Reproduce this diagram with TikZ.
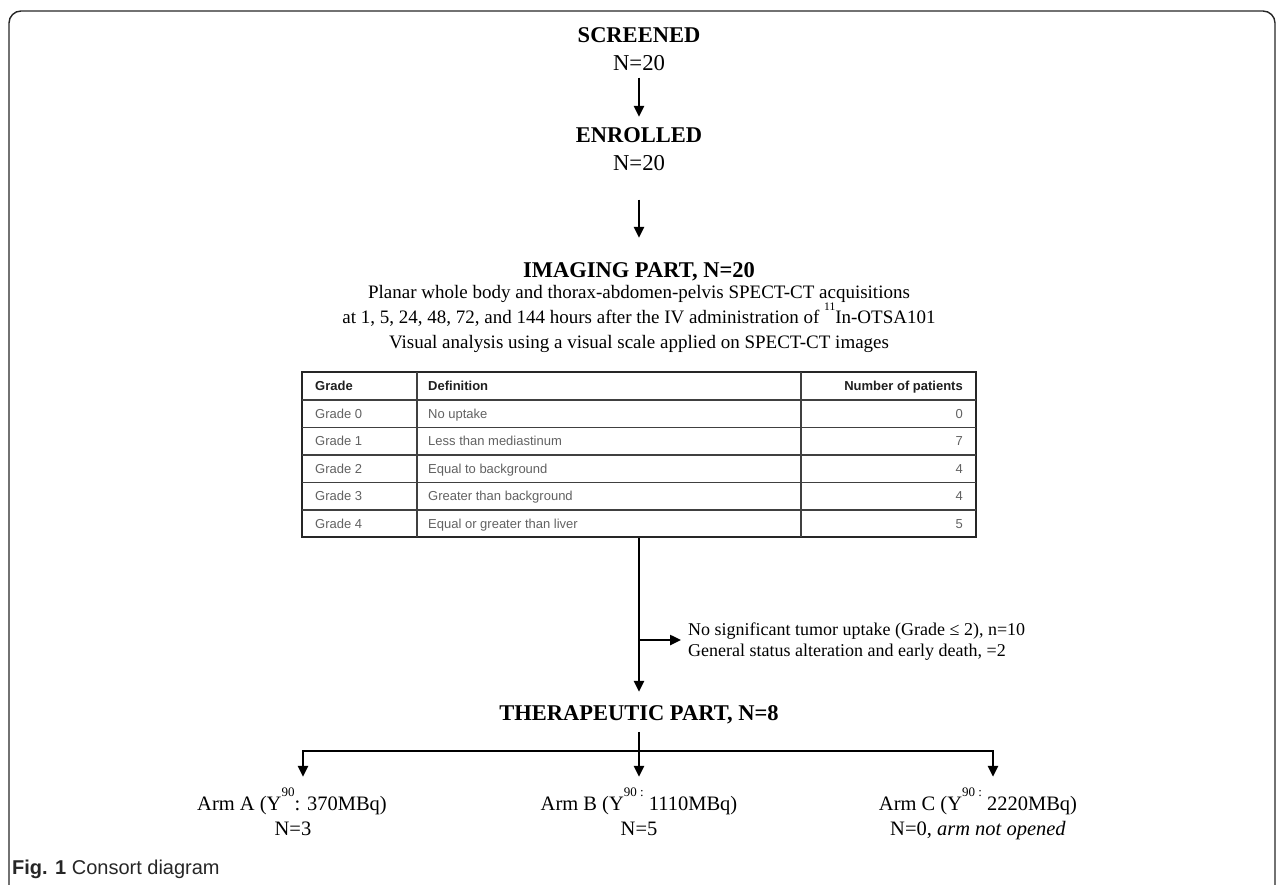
\documentclass[tikz,border=0pt]{standalone}
\usepackage{fontspec}
\setmainfont{Liberation Serif}
\newfontfamily\tabfont{Liberation Sans}
\newfontfamily\capfont{Liberation Sans}
\usetikzlibrary{arrows.meta}
\newcommand\hisup[3]{\raisebox{#1}{\fontsize{#2}{#2}\selectfont #3}}
\begin{document}
\begin{tikzpicture}[x=1pt,y=-1pt,
  head/.style={font=\bfseries\fontsize{22.5}{27}\selectfont, inner sep=0pt, text height=15.2pt, text depth=0pt},
  num/.style={font=\fontsize{22.7}{27}\selectfont, inner sep=0pt, text height=15pt, text depth=0pt},
  body/.style={font=\fontsize{19}{23}\selectfont, inner sep=0pt, text height=12.6pt, text depth=0pt},
  side/.style={font=\fontsize{18}{21}\selectfont, inner sep=0pt, anchor=west, text height=12pt, text depth=0pt},
  arm/.style={font=\fontsize{20.5}{24}\selectfont, inner sep=0pt, text height=13.6pt, text depth=0pt},
  cell/.style={font=\tabfont\fontsize{13}{15}\selectfont, text=black!62, inner sep=0pt, text height=9.3pt, text depth=0pt},
  hcell/.style={cell, font=\tabfont\bfseries\fontsize{13}{15}\selectfont, text=black!88},
  arr/.style={line width=2.6pt, -{Triangle[length=11pt,width=10pt]}},
  tline/.style={line width=1.3pt, draw=black!75},
]
\useasboundingbox (0,0) rectangle (1284,885);
% frame
\draw[line width=1.4pt, black!85, rounded corners=12pt] (9,900) -- (9,11) -- (1275,11) -- (1275,900);

% top blocks
\node[head] (scr) at (639,35) {SCREENED};
\node[num] (scrn) at (639,63) {N=20};
\node[head] (enr) at (639,135) {ENROLLED};
\node[num] (enrn) at (639,163) {N=20};
\node[head] (img) at (639,270) {IMAGING PART, N=20};
\node[body] (l1) at (639,292) {Planar whole body and thorax-abdomen-pelvis SPECT-CT acquisitions};
\node[body] (l2) at (639,317) {at 1, 5, 24, 48, 72, and 144 hours after the IV administration of \hisup{12.5pt}{11.5}{11}In-OTSA101};
\node[body] (l3) at (639,342) {Visual analysis using a visual scale applied on SPECT-CT images};

\draw[arr, shorten <=7pt, shorten >=10.4pt] (scrn.south) -- (enr.north);
\draw[arr, shorten <=29pt, shorten >=24.4pt] (enrn.south) -- (img.north);

% table
\node[draw=black!85, line width=2pt, minimum width=674pt, minimum height=165pt, inner sep=0pt] (tab) at (639,454.5) {};
\foreach \yy in {400,427.5,455,482.5,510} \draw[tline] (302,\yy) -- (976,\yy);
\foreach \xx in {417,801} \draw[tline] (\xx,372) -- (\xx,537);
\node[hcell, anchor=west] (h1) at (315,386) {Grade};
\node[hcell, anchor=west] (h2) at (428,386) {Definition};
\node[hcell, anchor=east] (h3) at (963,386) {Number of patients};
\foreach \g/\d/\n [count=\i] in {0/No uptake/0, 1/Less than mediastinum/7, 2/Equal to background/4, 3/Greater than background/4, 4/Equal or greater than liver/5} {
  \pgfmathsetmacro\yy{386+27.5*\i}
  \node[cell, anchor=west] (g\i) at (315,\yy) {Grade \g};
  \node[cell, anchor=west] (d\i) at (428,\yy) {\d};
  \node[cell, anchor=east] (n\i) at (963,\yy) {\n};
}

% therapeutic
\node[head] (ther) at (639,713) {THERAPEUTIC PART, N=8};
\draw[arr, line width=2.8pt, shorten >=13.4pt] (tab.south) -- (ther.north);
\coordinate (br) at (639,640);
\node[side] (ex1) at (688,629) {No significant tumor uptake (Grade ≤ 2), n=10};
\node[side] (ex2) at (688,650) {General status alteration and early death, =2};
\draw[arr, line width=2.4pt, shorten >=7pt] (br) -- (ex1.west |- br);

% arms
\node[arm] (armA) at (292,804) {Arm A (Y\hisup{14.5pt}{13}{90}: 370MBq)};
\node[arm] (armAn) at (293,829) {N=3};
\node[arm] (armB) at (639,804) {Arm B (Y\hisup{14.5pt}{13}{90 :} 1110MBq)};
\node[arm] (armBn) at (639,829) {N=5};
\node[arm] (armC) at (978,804) {Arm C (Y\hisup{14.5pt}{13}{90 :} 2220MBq)};
\node[arm] (armCn) at (978,829) {N=0, \textit{arm not opened}};

\coordinate (bar) at (639,751);
\coordinate (barL) at (303,751);
\coordinate (barR) at (993,751);
\draw[arr, line width=2.8pt, shorten <=11pt, shorten >=20.2pt] (ther.south) -- (armB.north);
\draw[arr, line width=2.8pt, shorten >=20.2pt] (bar) -- (barL) -- (barL |- armA.north);
\draw[arr, line width=2.8pt, shorten >=20.2pt] (bar) -- (barR) -- (barR |- armC.north);

% caption
\node[inner sep=0pt, anchor=west, font=\capfont\fontsize{20}{22}\selectfont, text=black!85, text height=14.3pt, text depth=0pt] (cap) at (12,867) {\textbf{Fig. 1} Consort diagram};
\end{tikzpicture}
\end{document}
